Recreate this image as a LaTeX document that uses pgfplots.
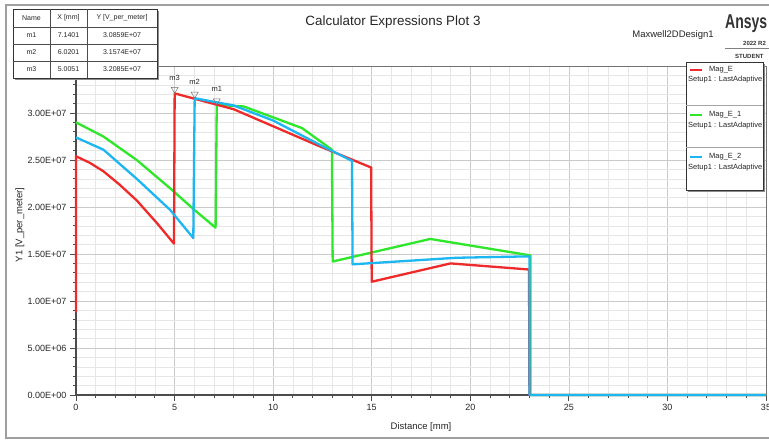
\documentclass[border=0pt]{standalone}
\usepackage{pgfplots}
\pgfplotsset{compat=1.18}
\usepackage{pgfplotstable}
\usepackage{fontspec}
\setmainfont{Liberation Sans}
\definecolor{cRed}{HTML}{EE2A2A}
\definecolor{cGreen}{HTML}{2EE62A}
\definecolor{cBlue}{HTML}{1CB6F2}
\definecolor{gridmaj}{HTML}{CACACA}
\definecolor{gridmin}{HTML}{E6E6E6}

\pgfplotstableread{
x y
0 8.8e6
0 2.54e7
0.7 2.47e7
1.39 2.38e7
2.2 2.24e7
3.08 2.07e7
4.1 1.83e7
4.97 1.61e7
5.0051 3.2085e7
8.0 3.04e7
12.2 2.66e7
14.97 2.42e7
15.0 1.205e7
19.0 1.40e7
22.98 1.335e7
23.0 0
35 0
}\magE

\pgfplotstableread{
x y
0 2.90e7
1.39 2.75e7
3.08 2.50e7
4.77 2.20e7
6.0 1.97e7
7.08 1.78e7
7.1401 3.0859e7
8.5 3.07e7
11.46 2.84e7
12.98 2.61e7
13.02 1.42e7
17.97 1.66e7
23.05 1.485e7
23.05 0
35 0
}\magEone

\pgfplotstableread{
x y
0 2.74e7
1.39 2.61e7
3.08 2.30e7
4.77 1.97e7
5.95 1.67e7
6.0201 3.1574e7
8.0 3.08e7
10.0 2.92e7
12.2 2.68e7
14.0 2.49e7
14.03 1.39e7
19.3 1.46e7
23.0 1.475e7
23.0 0
35 0
}\magEtwo

\pgfplotstableread{
x y label
5.0051 3.2085e7 m3
6.0201 3.1574e7 m2
7.1401 3.0859e7 m1
}\markers

\begin{document}
\begin{tikzpicture}[x=1pt,y=1pt]
\useasboundingbox (0,0) rectangle (769,440);
\fill[white] (0,0) rectangle (769,440);
\draw[gray!75, line width=1.6pt] (6,2) rectangle (790,435);

\begin{axis}[
  at={(76pt,45pt)}, anchor=south west,
  scale only axis, width=690pt, height=329pt,
  xmin=0, xmax=35, ymin=0, ymax=3.5e7,
  clip=false,
  xtick={0,5,10,15,20,25,30,35},
  minor x tick num=4,
  ytick={0,5e6,1e7,1.5e7,2e7,2.5e7,3e7,3.5e7},
  yticklabels={0.00E+00,5.00E+06,1.00E+07,1.50E+07,2.00E+07,2.50E+07,3.00E+07,},
  minor y tick num=4,
  scaled y ticks=false,
  grid=both,
  major grid style={gridmaj, line width=0.7pt},
  minor grid style={gridmin, line width=0.6pt},
  tick align=outside,
  tick pos=left,
  major tick length=6pt,
  minor tick length=3pt,
  tick style={black!70, line width=0.8pt},
  axis line style={black!55, line width=0.6pt},
  /pgf/number format/assume math mode=true,
  ticklabel style={font=\fontsize{9}{10}\selectfont, text=black!85},
  xlabel={Distance [mm]},
  ylabel={Y1 [V\_per\_meter]},
  label style={font=\fontsize{9.5}{11}\selectfont, text=black!85},
  xlabel style={at={(axis description cs:0.5,0)}, anchor=center, yshift=-32pt},
  ylabel style={at={(axis description cs:-0.0812,0.517)}, anchor=center},
]
\draw[black!70, line width=1.4pt] (rel axis cs:0,1) -- (rel axis cs:0,0) -- (rel axis cs:1,0);
\addplot[cGreen, line width=2.3pt, line join=round] table {\magEone};
\addplot[cRed, line width=2.3pt, line join=round] table {\magE};
\addplot[cBlue, line width=2.3pt, line join=round] table {\magEtwo};
\addplot[only marks, mark=triangle, mark size=4pt,
  mark options={yshift=4pt, rotate=180, draw=black!55, fill=white, line width=0.5pt},
  point meta=explicit symbolic, nodes near coords,
  nodes near coords style={font=\fontsize{7.5}{8}\selectfont, text=black!85, anchor=south, inner sep=1pt, yshift=8pt}]
  table[meta=label] {\markers};
\end{axis}

% title and header texts
\node[font=\fontsize{13.4}{15}\selectfont, text=black!85] at (393,418) {Calculator Expressions Plot 3};
\node[font=\fontsize{9.5}{11}\selectfont, text=black!85] at (673,405) {Maxwell2DDesign1};
\node[font=\fontsize{20}{22}\selectfont\bfseries, text=black!80, anchor=west, xscale=0.7, inner sep=0pt] at (725,416) {Ansys};
\node[font=\fontsize{6}{7}\selectfont\bfseries, text=black!80, anchor=west, inner sep=0pt] at (743,397) {2022 R2};
\draw[black!50, line width=0.8pt] (725,391.5) -- (775,391.5);
\node[font=\fontsize{6}{7}\selectfont\bfseries, text=black!80, anchor=west, inner sep=0pt] at (735,384) {STUDENT};

% marker table
\fill[black!45] (15,360) rectangle (159,429);
\fill[white] (13,362) rectangle (157,431);
\draw[black!80, line width=0.8pt] (13,362) rectangle (157,431);
\draw[black!70, line width=0.5pt] (50,362) -- (50,431) (87,362) -- (87,431)
  (13,413) -- (157,413) (13,396) -- (157,396) (13,379) -- (157,379);
\begin{scope}[every node/.style={font=\fontsize{7}{8}\selectfont, text=black!85, inner sep=0pt}]
\node at (31.5,422) {Name}; \node at (68.5,422) {X [mm]}; \node at (122,422) {Y [V\_per\_meter]};
\node at (31.5,404.5) {m1}; \node at (68.5,404.5) {7.1401}; \node at (122,404.5) {3.0859E+07};
\node at (31.5,387.5) {m2}; \node at (68.5,387.5) {6.0201}; \node at (122,387.5) {3.1574E+07};
\node at (31.5,370.5) {m3}; \node at (68.5,370.5) {5.0051}; \node at (122,370.5) {3.2085E+07};
\end{scope}

% legend box
\fill[black!45] (688,248) rectangle (765,376);
\fill[white] (686,250) rectangle (763,378);
\draw[black!80, line width=0.8pt] (686,250) rectangle (763,378);
\draw[black!35, line width=0.5pt] (686,335) -- (763,335) (686,293) -- (763,293);
\draw[cRed, line width=2.2pt] (690,370) -- (702,370);
\draw[cGreen, line width=2.2pt] (690,325) -- (702,325);
\draw[cBlue, line width=2.2pt] (690,283) -- (702,283);
\begin{scope}[every node/.style={font=\fontsize{7.5}{8}\selectfont, text=black!85, inner sep=0pt, anchor=west}]
\node at (709,370) {Mag\_E};
\node at (688,360) {Setup1 : LastAdaptive};
\node at (709,325) {Mag\_E\_1};
\node at (688,314) {Setup1 : LastAdaptive};
\node at (709,283) {Mag\_E\_2};
\node at (688,272) {Setup1 : LastAdaptive};
\end{scope}
\end{tikzpicture}
\end{document}
